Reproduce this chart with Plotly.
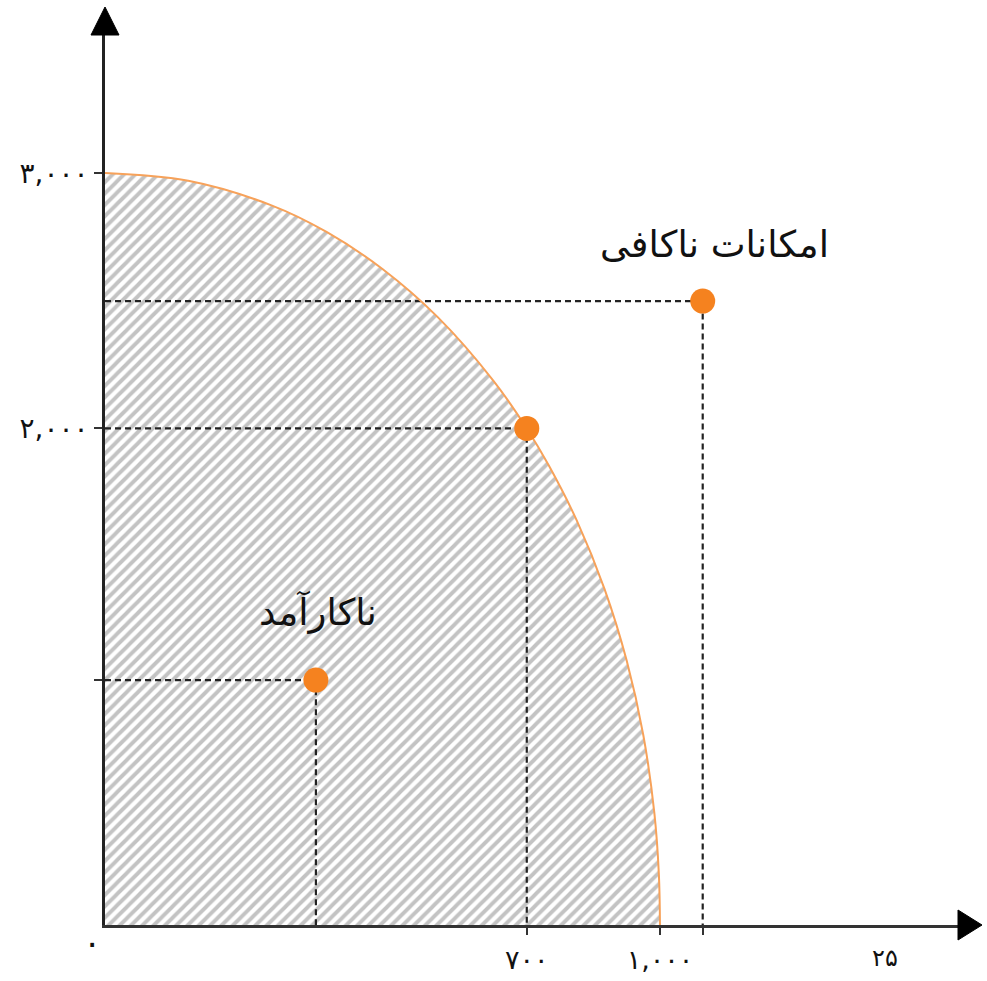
import plotly.graph_objects as go

# Production possibility frontier (values in the chart's drawn scale)
frontier_x = [0, 150, 300, 400, 500, 600, 700, 760, 800, 850, 900, 940, 970, 990, 998, 1000]
frontier_y = [3000, 2969, 2871, 2764, 2617, 2424, 2171, 1981, 1832, 1614, 1341, 1055, 757, 444, 202, 0]

# Marked points: inefficient, efficient, unattainable
point_x = [380, 760, 1077]
point_y = [977, 1981, 2489]

# Text labels
label_text = ["ناکارآمد", "امکانات ناکافی"]
label_x = [384, 1099]
label_y = [1249, 2713]

# Tick labels
y_tick_vals = [3000, 1981, 977]
y_tick_text = ["۳,۰۰۰", "۲,۰۰۰", ""]
x_tick_vals = [760, 1000, 1077]
x_tick_text = ["۷۰۰", "۱,۰۰۰", ""]
origin_text = "۰"
page_text = "۲۵"

ORANGE = "#F5821F"
FONT = "DejaVu Sans"

fig = go.Figure()

# hatched feasible region under the frontier
fig.add_trace(go.Scatter(
    x=frontier_x, y=frontier_y, mode="lines", line=dict(color="rgba(0,0,0,0)", width=0, shape="spline"),
    fill="tozeroy", fillcolor="white",
    fillpattern=dict(shape="/", fgcolor="#888888", bgcolor="white", size=8, solidity=0.48),
    hoverinfo="skip", showlegend=False,
))

# dashed guide lines
for px, py in zip(point_x, point_y):
    fig.add_trace(go.Scatter(
        x=[0, px, px], y=[py, py, 0], mode="lines",
        line=dict(color="#222", width=2.2, dash="6px,4px"),
        hoverinfo="skip", showlegend=False,
    ))

# frontier curve
fig.add_trace(go.Scatter(
    x=frontier_x, y=frontier_y, mode="lines",
    line=dict(color="#F7A25A", width=2, shape="spline"),
    hoverinfo="skip", showlegend=False,
))

# points
fig.add_trace(go.Scatter(
    x=point_x, y=point_y, mode="markers",
    marker=dict(color=ORANGE, size=25),
    hoverinfo="skip", showlegend=False, cliponaxis=False,
))

for t, lx, ly in zip(label_text, label_x, label_y):
    fig.add_annotation(x=lx, y=ly, text=t, showarrow=False,
                       font=dict(family=FONT, size=37, color="#111"))

fig.add_annotation(x=-0.0152, y=-0.0191, xref="paper", yref="paper", text=origin_text,
                   xanchor="center", yanchor="middle",
                   showarrow=False, font=dict(family=FONT, size=34, color="#111"))
fig.add_annotation(x=0.9144, y=-0.0371, xref="paper", yref="paper", text=page_text,
                   xanchor="center", yanchor="middle",
                   showarrow=False, font=dict(family=FONT, size=24, color="#111"))

# axis arrowheads
fig.add_shape(type="path", xref="paper", yref="paper", xsizemode="pixel", ysizemode="pixel",
              xanchor=0, yanchor=1, path="M-14,0 L14,0 L0,28 Z",
              fillcolor="black", line=dict(color="black", width=1))
fig.add_shape(type="path", xref="paper", yref="paper", xsizemode="pixel", ysizemode="pixel",
              xanchor=1, yanchor=0, path="M0,-15 L0,15 L24,0 Z",
              fillcolor="black", line=dict(color="black", width=1))

fig.update_layout(
    width=987, height=981,
    margin=dict(l=105, r=29, t=35, b=56),
    paper_bgcolor="white", plot_bgcolor="white",
    showlegend=False,
    xaxis=dict(range=[0, 1537], showgrid=False, zeroline=False, automargin=False,
               showline=True, linecolor="#333", linewidth=3,
               tickmode="array", tickvals=x_tick_vals, ticktext=x_tick_text,
               ticks="outside", ticklen=7, tickwidth=2, tickcolor="#333",
               ticklabelstandoff=2,
               tickfont=dict(family=FONT, size=27, color="#111")),
    yaxis=dict(range=[0, 3550.5], showgrid=False, zeroline=False, automargin=False,
               showline=True, linecolor="#222", linewidth=2.5,
               tickmode="array", tickvals=y_tick_vals, ticktext=y_tick_text,
               ticks="outside", ticklen=8, tickwidth=2, tickcolor="#333",
               tickfont=dict(family=FONT, size=28, color="#111")),
)

fig.write_html("out.html", config={"displayModeBar": False},
               post_script="document.body.style.margin='0';document.body.style.overflow='hidden';")
